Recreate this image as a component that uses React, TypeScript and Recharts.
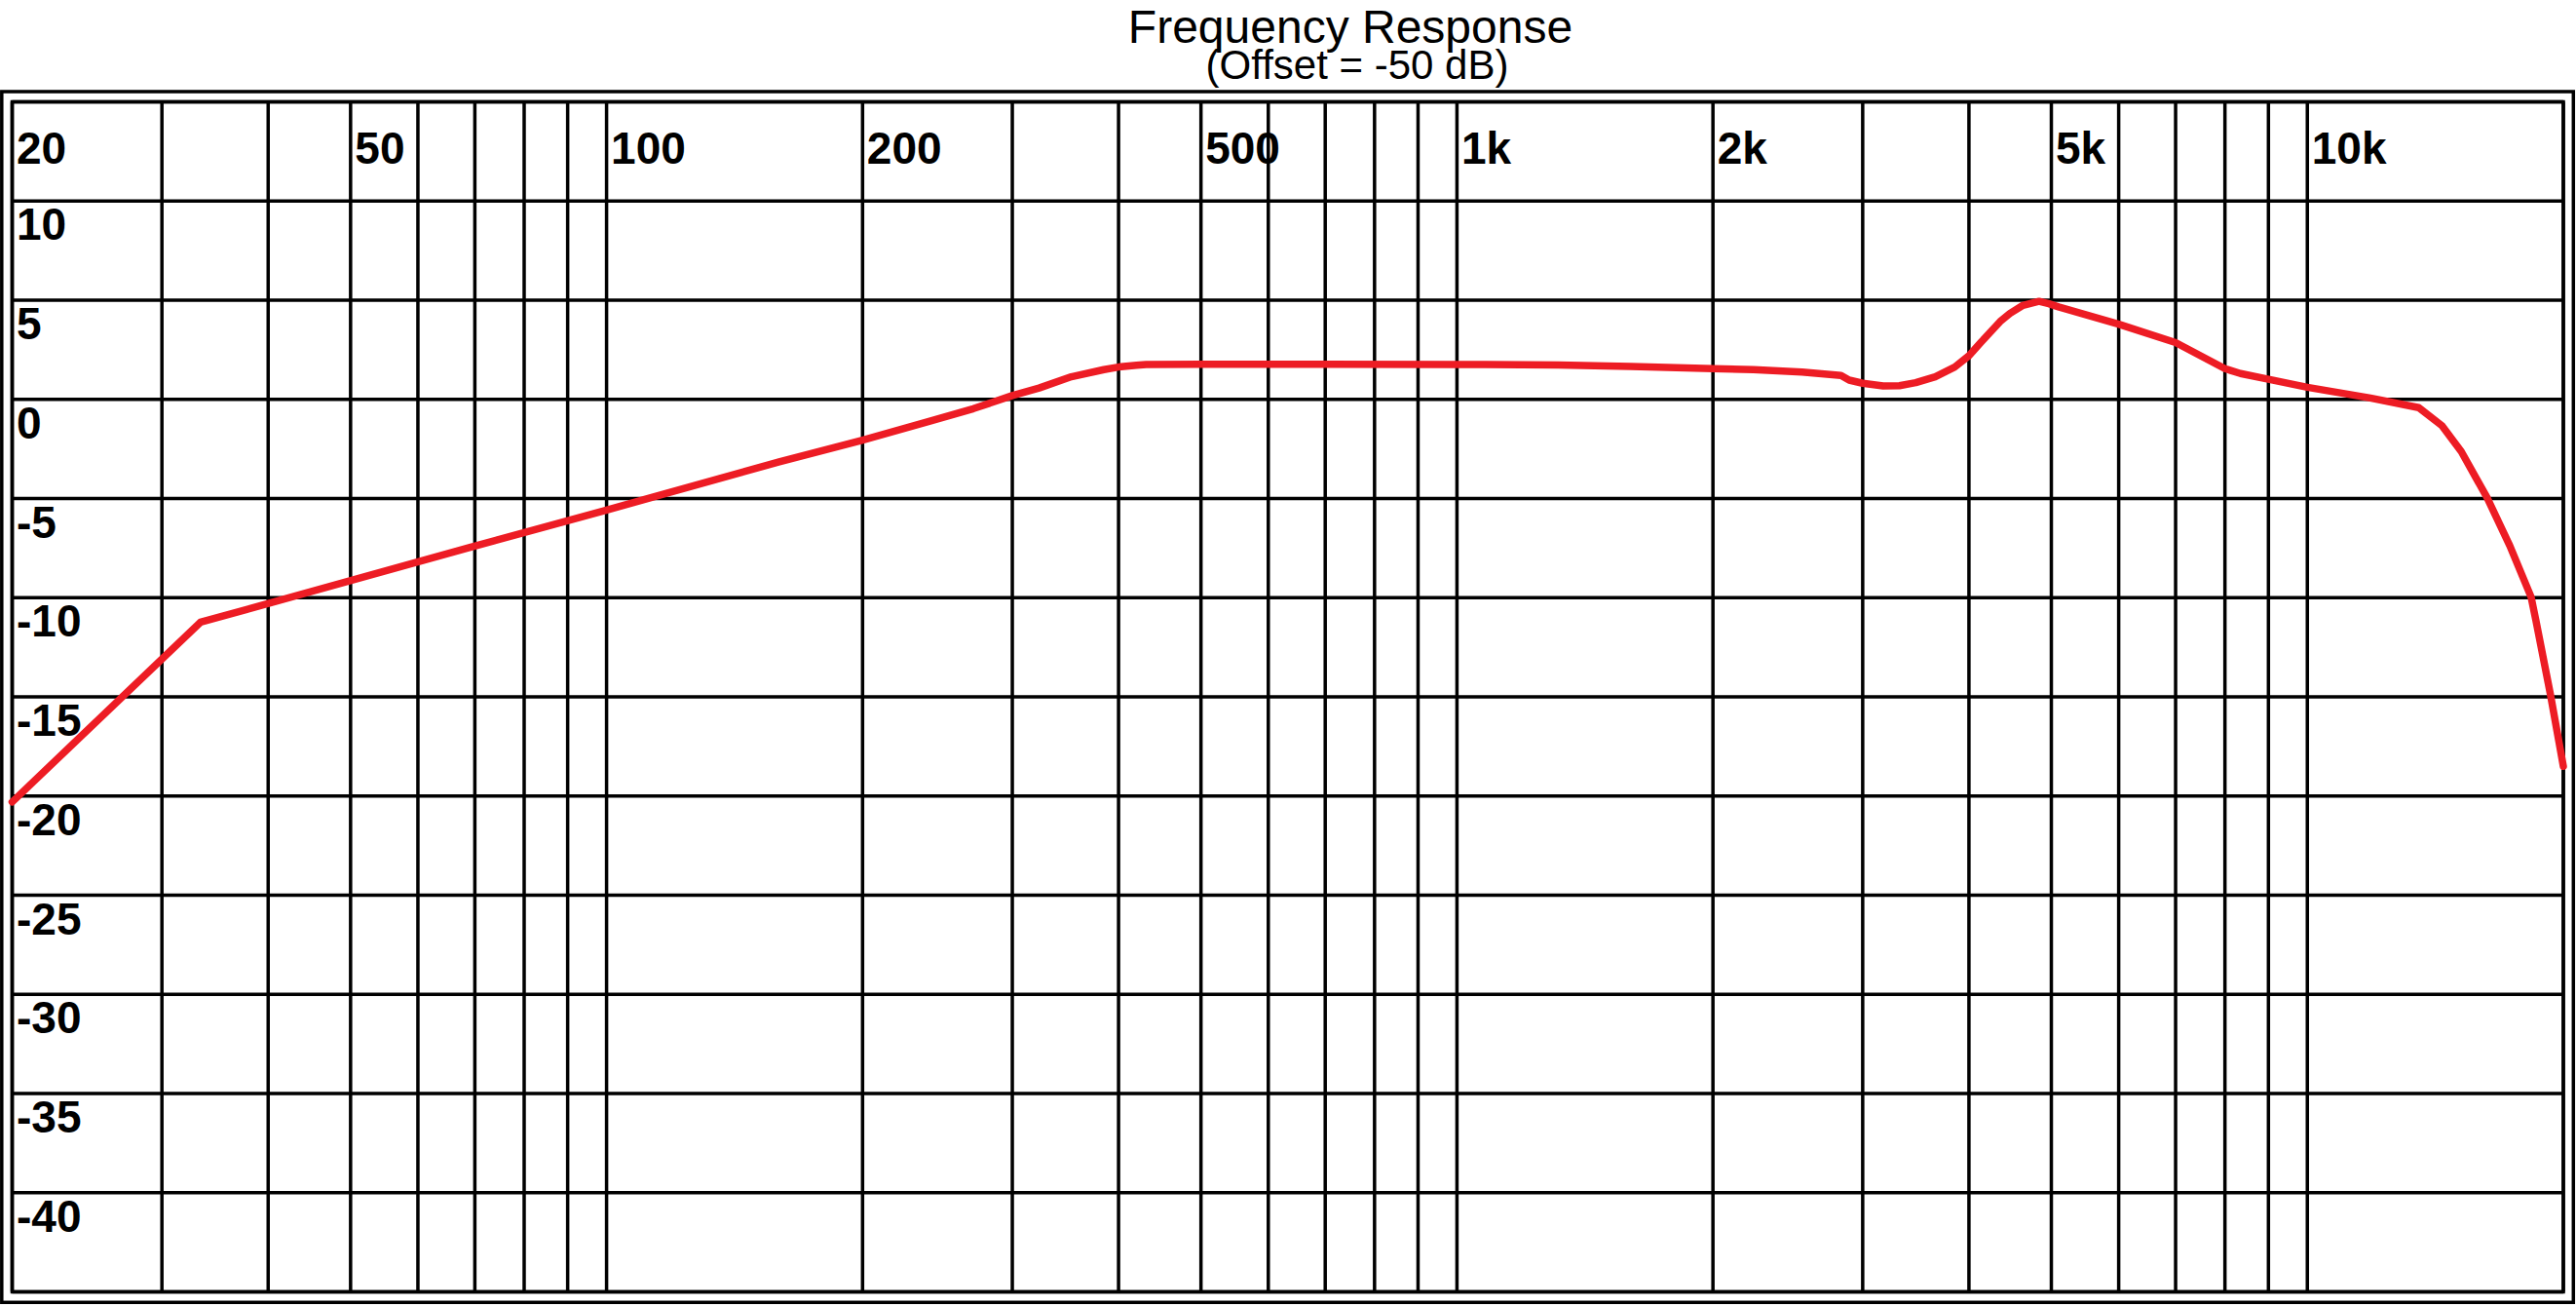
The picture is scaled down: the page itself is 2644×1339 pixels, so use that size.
import React from 'react';
import { LineChart, Line, XAxis, YAxis, CartesianGrid, ReferenceArea } from 'recharts';

// ---- data ----
const frequencies = [
  20, 33.3, 68.6, 100, 159.6, 200, 240, 270, 300, 322.6, 352, 384.4, 400, 420, 431,
  500, 700, 1000, 1316, 1600, 2000, 2232, 2546, 2829, 2892, 3000, 3171, 3314, 3463,
  3651, 3849, 4000, 4129, 4352, 4469, 4630, 4836, 4966, 5098, 6000, 7000, 8000, 8344,
  9000, 10000, 11860, 13520, 14390, 15170, 16270, 17300, 18330, 18570, 19320, 20000,
];
const responseDb = [
  -20.3, -11.24, -7.5, -5.58, -3.15, -2.06, -1.1, -0.47, 0.19, 0.57, 1.14, 1.5, 1.63, 1.72, 1.76,
  1.77, 1.77, 1.76, 1.73, 1.66, 1.55, 1.5, 1.38, 1.2, 0.97, 0.81, 0.68, 0.69, 0.84,
  1.14, 1.63, 2.2, 2.86, 3.92, 4.33, 4.74, 4.94, 4.82, 4.66, 3.79, 2.86, 1.55, 1.3,
  1.01, 0.61, 0.07, -0.42, -1.32, -2.63, -4.96, -7.38, -9.97, -11.15, -14.91, -18.5,
];
const gridFrequencies = [
  20, 30, 40, 50, 60, 70, 80, 90, 100, 200, 300, 400, 500, 600, 700, 800, 900,
  1000, 2000, 3000, 4000, 5000, 6000, 7000, 8000, 9000, 10000,
];
const labeledFrequencies = [20, 50, 100, 200, 500, 1000, 2000, 5000, 10000];
const frequencyLabels = ['20', '50', '100', '200', '500', '1k', '2k', '5k', '10k'];
const dbTicks = [15, 10, 5, 0, -5, -10, -15, -20, -25, -30, -35, -40, -45];
const dbLabelTicks = [10, 5, 0, -5, -10, -15, -20, -25, -30, -35, -40];
const dbLabels = ['10', '5', '0', '-5', '-10', '-15', '-20', '-25', '-30', '-35', '-40'];
const chartTitle = 'Frequency Response';
const chartSubtitle = '(Offset = -50 dB)';

const data = frequencies.map((f, i) => ({ f, db: responseDb[i] }));

// ---- layout ----
const W = 2644;
const H = 1339;
const PLOT_LEFT = 12.5;
const PLOT_TOP = 104.5;
const PLOT_RIGHT = 2631;
const PLOT_BOTTOM = 1325.5;
const X_AXIS_H = 30;
const Y_AXIS_W = 10;
const FONT = '"Liberation Sans", Arial, Helvetica, sans-serif';

const renderFreqTick = (props: any) => {
  const { x, payload } = props;
  const idx = labeledFrequencies.indexOf(Number(payload && payload.value));
  if (idx < 0) return <g key={`ft-${payload && payload.value}`} />;
  return (
    <text
      key={`ft-${payload.value}`}
      x={Number(x) + 4.5}
      y={PLOT_TOP + 63.5}
      fontFamily={FONT}
      fontWeight="bold"
      fontSize={46}
      fill="#000"
      textAnchor="start"
    >
      {frequencyLabels[idx]}
    </text>
  );
};

const renderDbTick = (props: any) => {
  const { y, payload } = props;
  const idx = dbLabelTicks.indexOf(Number(payload && payload.value));
  if (idx < 0) return <g key={`dt-${payload && payload.value}`} />;
  return (
    <text
      key={`dt-${payload.value}`}
      x={PLOT_LEFT + 4.5}
      y={Number(y) + 40}
      fontFamily={FONT}
      fontWeight="bold"
      fontSize={46}
      fill="#000"
      textAnchor="start"
    >
      {dbLabels[idx]}
    </text>
  );
};

export default function App() {
  return (
    <div style={{ position: 'absolute', left: 0, top: 0, width: W, height: H, background: '#fff' }}>
      <LineChart
        width={W}
        height={H}
        data={data}
        margin={{
          top: PLOT_TOP - X_AXIS_H,
          left: PLOT_LEFT - Y_AXIS_W,
          right: W - PLOT_RIGHT,
          bottom: H - PLOT_BOTTOM,
        }}
      >
        <CartesianGrid stroke="#000" strokeWidth={3.5} />
        <XAxis
          dataKey="f"
          type="number"
          scale="log"
          domain={[20, 20000]}
          ticks={gridFrequencies}
          orientation="top"
          height={X_AXIS_H}
          axisLine={false}
          tickLine={false}
          interval={0}
          tick={renderFreqTick}
        />
        <YAxis
          type="number"
          domain={[-45, 15]}
          ticks={dbTicks}
          width={Y_AXIS_W}
          axisLine={false}
          tickLine={false}
          interval={0}
          tick={renderDbTick}
        />
        <ReferenceArea
          x1={20}
          x2={20000}
          y1={-45}
          y2={15}
          fill="none"
          fillOpacity={0}
          stroke="#000"
          strokeWidth={3.5}
          ifOverflow="visible"
        />
        <Line
          type="linear"
          dataKey="db"
          stroke="#ED1C24"
          strokeWidth={7.5}
          strokeLinejoin="round"
          strokeLinecap="round"
          dot={false}
          activeDot={false}
          isAnimationActive={false}
        />
      </LineChart>
      <svg
        width={W}
        height={H}
        style={{ position: 'absolute', left: 0, top: 0, pointerEvents: 'none' }}
      >
        <rect x={1.8} y={94} width={2639.5} height={1242.3} fill="none" stroke="#000" strokeWidth={3.5} />
        <text x={1386} y={44} textAnchor="middle" fontFamily={FONT} fontSize={48} fill="#000">
          {chartTitle}
        </text>
        <text x={1393} y={81} textAnchor="middle" fontFamily={FONT} fontSize={42} fill="#000">
          {chartSubtitle}
        </text>
      </svg>
    </div>
  );
}
